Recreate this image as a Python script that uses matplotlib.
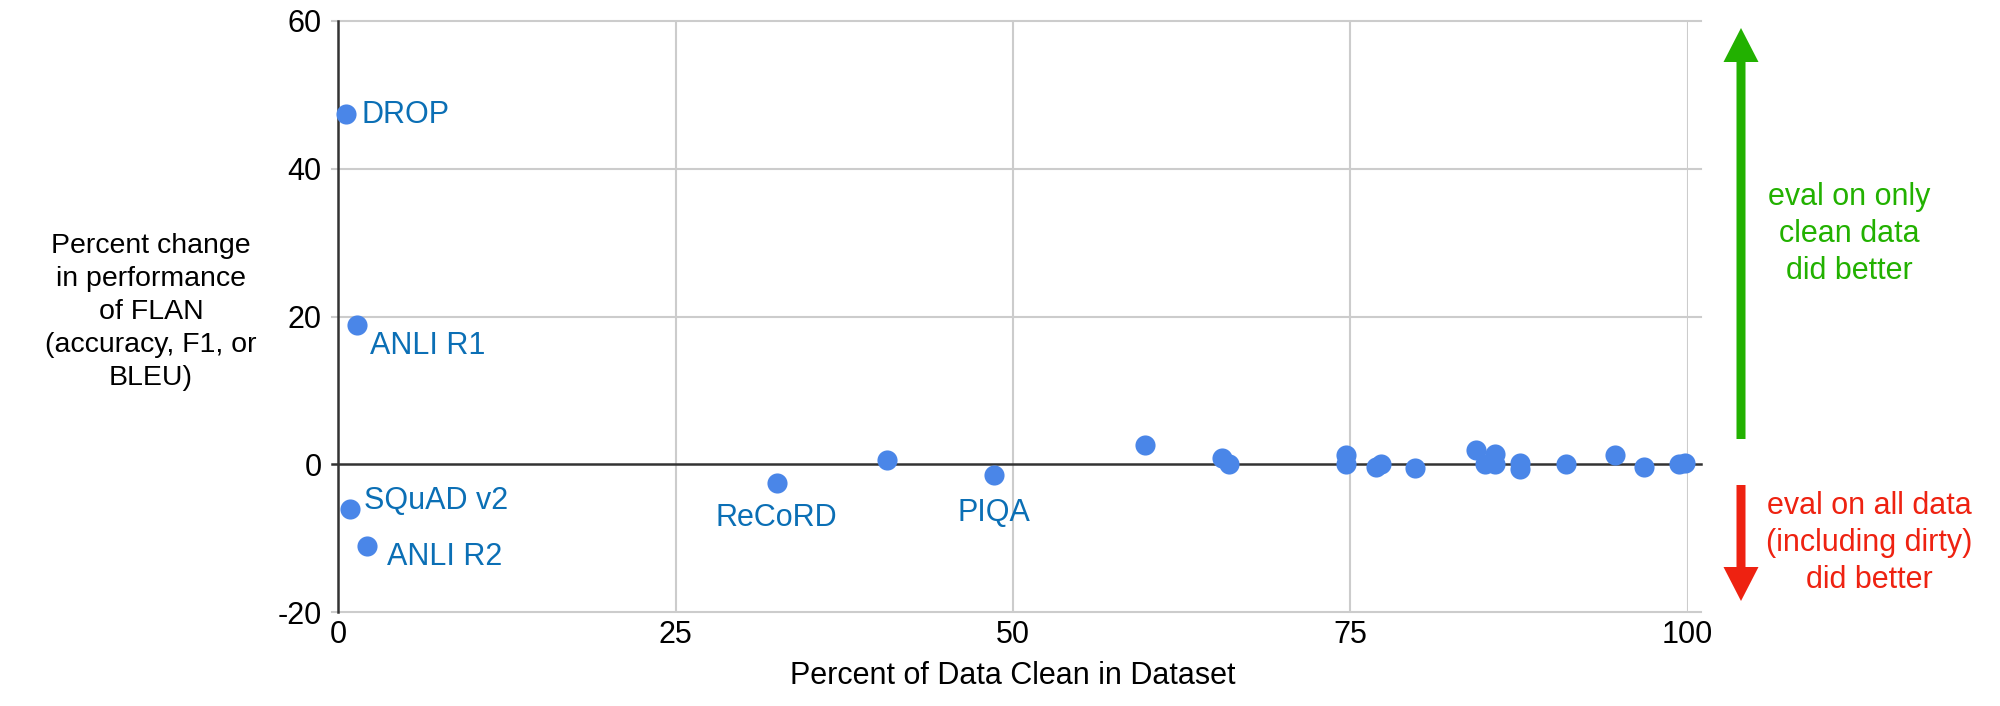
import matplotlib
matplotlib.use("Agg")
import matplotlib.pyplot as plt
from matplotlib.patches import Polygon

plt.rcParams['font.family'] = ['Liberation Sans', 'DejaVu Sans']

# Data
pct_clean = [0.6, 1.4, 0.9, 2.1, 32.5, 40.7, 48.6, 59.8, 65.5, 66.0, 74.7, 74.7,
             76.9, 77.3, 79.8, 84.3, 85.0, 85.7, 85.7, 87.6, 87.6, 91.0, 94.6,
             96.8, 99.4, 99.8]
pct_change = [47.4, 18.8, -6.1, -11.1, -2.6, 0.6, -1.5, 2.6, 0.9, 0.1, 1.2, 0.1,
              -0.4, 0.0, -0.5, 1.9, 0.1, 1.4, 0.1, 0.2, -0.6, 0.0, 1.3,
              -0.4, 0.1, 0.2]
labels = {0: "DROP", 1: "ANLI R1", 2: "SQuAD v2", 3: "ANLI R2", 4: "ReCoRD", 6: "PIQA"}
label_offsets = {0: (11, -1, 'left', 'center'),
                 1: (9, -15, 'left', 'center'),
                 2: (10, 6, 'left', 'center'),
                 3: (15, -8, 'left', 'center'),
                 4: (0, -25, 'center', 'center'),
                 6: (0, -27, 'center', 'center')}
x_ticks = [0, 25, 50, 75, 100]
y_ticks = [-20, 0, 20, 40, 60]

W, H = 2000, 706
fig = plt.figure(figsize=(20, 7.06), dpi=100)
ax = fig.add_axes([338.3 / W, 1 - 612 / H, (1687.5 - 338.3) / W, (612 - 21) / H])
ax.set_xlim(0, 100)
ax.set_ylim(-20, 60)

for t in x_ticks[1:]:
    ax.axvline(t, color='#cccccc', lw=1.5, zorder=0)
for t in y_ticks:
    if t != 0:
        ax.plot([-0.5, 101.0], [t, t], color='#cccccc', lw=1.5, zorder=0, clip_on=False)
ax.plot([-0.5, 101.0], [0, 0], color='#333333', lw=1.8, zorder=1, clip_on=False)

for s in ['top', 'right', 'bottom']:
    ax.spines[s].set_visible(False)
ax.spines['left'].set_color('#333333')
ax.spines['left'].set_linewidth(1.8)

ax.scatter(pct_clean, pct_change, s=210, color='#4a86e8', zorder=3, clip_on=False, linewidths=0)

for i, txt in labels.items():
    dx, dy, ha, va = label_offsets[i]
    ax.annotate(txt, (pct_clean[i], pct_change[i]), xytext=(dx, dy),
                textcoords='offset points', ha=ha, va=va, fontsize=22, color='#0b6fb5')

ax.set_xticks(x_ticks)
ax.set_yticks(y_ticks)
ax.set_xticklabels([str(t) for t in x_ticks])
ax.set_yticklabels([str(t) for t in y_ticks])
ax.tick_params(axis='y', length=0, labelsize=22, pad=12)
ax.tick_params(axis='x', length=0, labelsize=22, pad=6)

ax.set_xlabel("Percent of Data Clean in Dataset", fontsize=22, labelpad=8)
fig.text(151 / W, 1 - 312 / H,
         "Percent change\nin performance\nof FLAN\n(accuracy, F1, or\nBLEU)",
         ha='center', va='center', fontsize=20.5, linespacing=1.35)

# arrows (figure pixel coordinates, y from top)
def P(px, py):
    return (px / W, 1 - py / H)

green = '#22b100'
red = '#ee2211'
cx, sw, hw = 1741, 4.5, 17.5
green_pts = [P(cx - sw, 439), P(cx - sw, 62), P(cx - hw, 62), P(cx, 28),
             P(cx + hw, 62), P(cx + sw, 62), P(cx + sw, 439)]
red_pts = [P(cx - sw, 485), P(cx - sw, 567), P(cx - hw, 567), P(cx, 601),
           P(cx + hw, 567), P(cx + sw, 567), P(cx + sw, 485)]
fig.add_artist(Polygon(green_pts, closed=True, transform=fig.transFigure,
                       facecolor=green, edgecolor='none'))
fig.add_artist(Polygon(red_pts, closed=True, transform=fig.transFigure,
                       facecolor=red, edgecolor='none'))

fig.text(1849 / W, 1 - 234 / H, "eval on only\nclean data\ndid better", ha='center', va='center',
         fontsize=22, color=green, linespacing=1.3)
fig.text(1869 / W, 1 - 543 / H, "eval on all data\n(including dirty)\ndid better", ha='center', va='center',
         fontsize=22, color=red, linespacing=1.3)

fig.savefig("out.png", dpi=100)
